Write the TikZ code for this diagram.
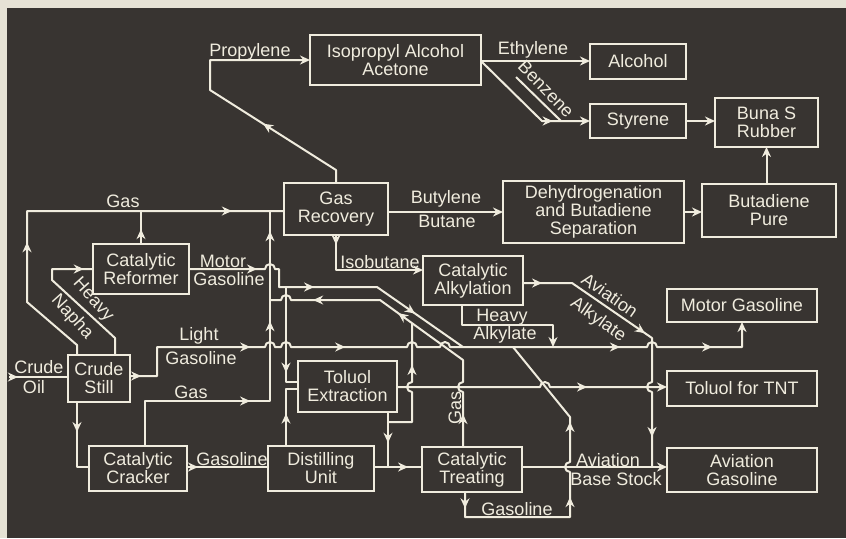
\documentclass[tikz,border=0pt]{standalone}
\usepackage{fontspec}
\setmainfont{Liberation Sans}
\usetikzlibrary{arrows.meta, decorations.markings}
\definecolor{panel}{RGB}{56,52,49}
\definecolor{paper}{RGB}{230,226,213}
\definecolor{chalk}{RGB}{240,236,222}

\begin{document}
\begin{tikzpicture}[x=0.5pt, y=-0.5pt,
  unit/.style={draw=chalk, line width=1pt, text=chalk, align=center, inner sep=1pt, outer sep=0pt, font=\fontsize{9}{9}\selectfont},
  lbl/.style={text=chalk, inner sep=0pt, font=\fontsize{9}{9}\selectfont},
  pipe/.style={draw=chalk, line width=1pt, line join=round},
  into/.style={-{Stealth[length=5pt, width=4.5pt]}},
  flow/.style={postaction={decorate, decoration={markings, mark=at position #1 with {\arrow{Stealth[length=5pt, width=4.5pt]}}}}}
]
  \useasboundingbox (0,0) rectangle (846,538);
  \fill[paper] (0,0) rectangle (846,538);
  \fill[panel] (7,8) rectangle (846,538);

  % units
  \node[unit, minimum width=85.5pt, minimum height=25pt] (iso) at (395.5,60) {Isopropyl Alcohol\\Acetone};
  \node[unit, minimum width=48pt, minimum height=17.5pt] (alc) at (638,61.5) {Alcohol};
  \node[unit, minimum width=48pt, minimum height=17pt] (sty) at (638,121) {Styrene};
  \node[unit, minimum width=51.5pt, minimum height=24.5pt] (buna) at (766.5,122.5) {Buna S\\Rubber};
  \node[unit, minimum width=52pt, minimum height=26pt] (gasrec) at (336,209) {Gas\\Recovery};
  \node[unit, minimum width=90.5pt, minimum height=31pt] (dehyd) at (593.5,212) {Dehydrogenation\\and Butadiene\\Separation};
  \node[unit, minimum width=67pt, minimum height=26.5pt] (butad) at (769,210.5) {Butadiene\\Pure};
  \node[unit, minimum width=48pt, minimum height=25pt] (reform) at (141,269) {Catalytic\\Reformer};
  \node[unit, minimum width=50pt, minimum height=24.5pt] (alky) at (473,280.5) {Catalytic\\Alkylation};
  \node[unit, minimum width=75pt, minimum height=16.5pt] (motor) at (742,305.5) {Motor Gasoline};
  \node[unit, minimum width=31pt, minimum height=23.5pt] (still) at (99,378.5) {Crude\\Still};
  \node[unit, minimum width=49.5pt, minimum height=25.5pt] (toluol) at (347.5,386.5) {Toluol\\Extraction};
  \node[unit, minimum width=75pt, minimum height=17.5pt] (tnt) at (742,388.5) {Toluol for TNT};
  \node[unit, minimum width=49pt, minimum height=22.5pt] (cracker) at (138,468.5) {Catalytic\\Cracker};
  \node[unit, minimum width=53pt, minimum height=22.5pt] (distil) at (321,468.5) {Distilling\\Unit};
  \node[unit, minimum width=50pt, minimum height=22.5pt] (treat) at (472,469.5) {Catalytic\\Treating};
  \node[unit, minimum width=75pt, minimum height=22pt] (avgas) at (742,470) {Aviation\\Gasoline};

  % crude feed and still
  \coordinate (feed) at (9,377);
  \coordinate (gasL) at (27,211);
  \draw[pipe, flow=0.15] (feed) -- (feed -| still.west);
  \draw[pipe, flow=0.32, flow=0.877] (still.north -| 77,0) -- (77,345) -- (27,302) -- (gasL) -- (gasL -| gasrec.west);
  \draw[pipe, flow=0.45] (reform.north) -- (reform.north |- gasL);
  \draw[pipe, flow=0.94] (still.north -| 115,0) -- (115,338) -- (52,280) -- (52,269) -- (reform.west);
  \draw[pipe, flow=0.39] (still.south -| 77,0) -- (77,467) -- (cracker.west |- 0,467);
  \draw[pipe, flow=0.016, flow=0.215, flow=0.368, flow=0.78, flow=0.921, into] (still.east |- 0,376) -- (157,376) -- (157,347)
    -- (265,347) arc[start angle=180, end angle=360, radius=5] -- (281,347) arc[start angle=180, end angle=360, radius=5]
    -- (407,347) arc[start angle=180, end angle=360, radius=5] -- (440,347) arc[start angle=180, end angle=360, radius=5]
    -- (647,347) arc[start angle=180, end angle=360, radius=5] -- (motor.south |- 0,347) -- (motor.south);

  % reformer and cracker
  \draw[pipe, flow=0.215, flow=0.47, flow=0.815] (reform.east) -- (265,269) arc[start angle=180, end angle=360, radius=5]
    -- (279,269) -- (279,287) -- (377,287) -- (463,347);
  \coordinate (mgtap) at (286,287);
  \draw[pipe, flow=0.8] (mgtap) -- (286,382) -- (toluol.west |- 0,382);
  \draw[pipe, flow=0.417, flow=0.694, flow=0.944] (cracker.north -| 145,0) -- (145,401) -- (270,401) -- (gasL -| 270,0);
  \draw[pipe, flow=0.136] (cracker.east |- 0,467) -- (distil.west |- 0,467);
  \draw[pipe, flow=0.47] (distil.north -| 286,0) -- (286,389) -- (toluol.west |- 0,389);
  \draw[pipe, flow=0.71] (distil.east |- 0,467) -- (treat.west |- 0,467);

  % toluol
  \draw[pipe, flow=0.56] (toluol.south -| 388,0) -- (388,467);
  \draw[pipe, flow=0.674] (388,422) -- (412,422) -- (412,392) arc[start angle=90, end angle=270, radius=5] -- (412,323);
  \draw[pipe, flow=0.71, into] (toluol.east |- 0,387) -- (540,387) arc[start angle=180, end angle=360, radius=5] -- (tnt.west |- 0,387);

  % catalytic treating
  \draw[pipe, flow=0.106, flow=0.556, flow=0.843] (treat.north -| 463,0) -- (463,392) arc[start angle=90, end angle=270, radius=5]
    -- (463,360) -- (380,300) -- (291,300) arc[start angle=360, end angle=180, radius=5] -- (270,300);
  \draw[pipe, into] (treat.east |- 0,467) -- (avgas.west |- 0,467);
  \draw[pipe, flow=0.05, flow=0.46, flow=0.708] (treat.south -| 465,0) -- (465,517) -- (570,517)
    -- (570,472) arc[start angle=90, end angle=270, radius=5] -- (570,417) -- (513,347);

  % gas recovery
  \draw[pipe, flow=0.34, into] (gasrec.north) -- (336,170) -- (210,90) -- (210,60) -- (iso.west |- 0,60);
  \draw[pipe, into] (gasrec.east |- 0,212) -- (dehyd.west |- 0,212);
  \draw[pipe, flow=0.08, into] (gasrec.south) -- (336,270) -- (alky.west |- 0,270);

  % alkylation
  \draw[pipe, flow=0.068, flow=0.49, flow=0.893] (alky.east |- 0,283) -- (572,283) -- (652,338)
    -- (652,382) arc[start angle=270, end angle=90, radius=5] -- (652,467);
  \draw[pipe, into] (alky.south -| 462,0) -- (462,325) -- (553,325) -- (553,347);

  % chemicals
  \draw[pipe, into] (iso.east |- 0,61) -- (alc.west |- 0,61);
  \draw[pipe, flow=0.72, into] (iso.east |- 0,61) -- (542,121) -- (sty.west |- 0,121);
  \coordinate (bz) at (516,77);
  \draw[pipe] (bz) -- (561,121);
  \draw[pipe, into] (sty.east) -- (buna.west |- sty.east);
  \draw[pipe, into] (buna.south |- butad.north) -- (buna.south);
  \draw[pipe, into] (dehyd.east) -- (butad.west |- dehyd.east);

  % labels
  \node[lbl] (crude) at (39,367) {Crude};
  \node[lbl] (oil) at (34,387) {Oil};
  \node[lbl] (gastop) at (123,201) {Gas};
  \node[lbl, rotate=-48] (heavyn) at (93,300) {Heavy};
  \node[lbl, rotate=-48] (napha) at (72,317) {Napha};
  \node[lbl] (motorl) at (223,261) {Motor};
  \node[lbl] (motorg) at (229,279) {Gasoline};
  \node[lbl] (light) at (199,336) {Light};
  \node[lbl] (lightg) at (201,358) {Gasoline};
  \node[lbl] (gascr) at (191,392) {Gas};
  \node[lbl] (gasol) at (232,459) {Gasoline};
  \node[lbl] (propyl) at (250,52) {Propylene};
  \node[lbl] (butyl) at (446,199) {Butylene};
  \node[lbl] (butan) at (447,221) {Butane};
  \node[lbl] (isobut) at (380,262) {Isobutane};
  \node[lbl] (ethyl) at (533,50) {Ethylene};
  \node[lbl, rotate=-46] (benz) at (546,89) {Benzene};
  \node[lbl] (heavya) at (502,317) {Heavy};
  \node[lbl] (alkyl) at (505,335) {Alkylate};
  \node[lbl, rotate=-35] (aviat) at (610,295) {Aviation};
  \node[lbl, rotate=-35] (alkyl2) at (598,320) {Alkylate};
  \node[lbl, rotate=90] (gastr) at (455,408) {Gas};
  \node[lbl] (gasol2) at (517,509) {Gasoline};
  \node[lbl] (aviab) at (608,460) {Aviation};
  \node[lbl] (bases) at (616,479) {Base Stock};
\end{tikzpicture}
\end{document}
